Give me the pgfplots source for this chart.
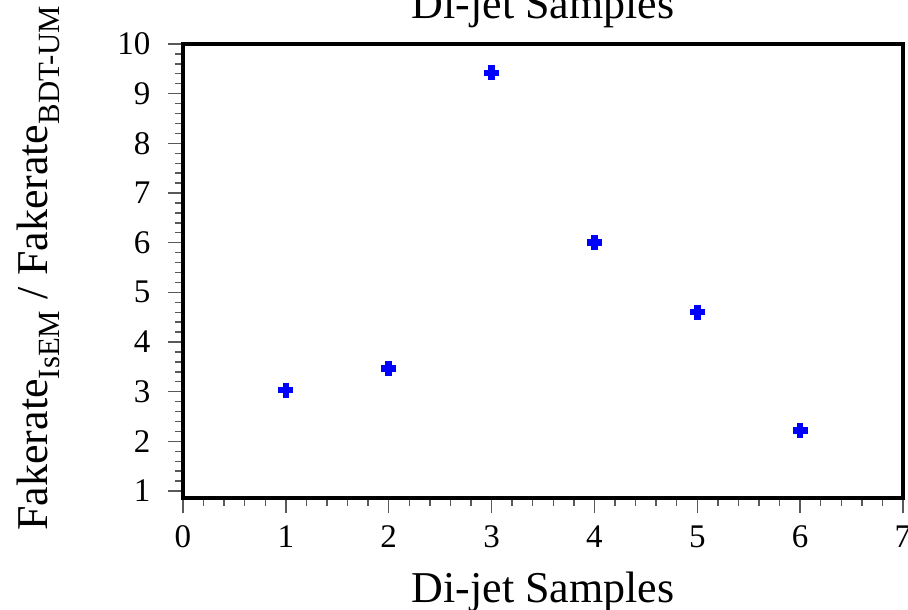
\documentclass[border=0pt]{standalone}
\usepackage{pgfplots}
\pgfplotsset{compat=1.18}
\usepackage{fontspec}
\setmainfont{Liberation Serif}
\begin{document}
\begin{tikzpicture}
\begin{axis}[
  name=ax,
  scale only axis,
  width=720pt, height=454pt,
  xmin=0, xmax=7, ymin=0.86, ymax=10,
  xtick={0,1,...,7}, ytick={1,2,...,10},
  minor x tick num=4, minor y tick num=4,
  xtick pos=bottom, ytick pos=left,
  tick align=outside,
  major tick length=15pt, minor tick length=8pt,
  tick style={line width=1.4pt, color=black!65},
  axis line style={line width=3.6pt, black},
  /pgf/number format/assume math mode=true,
  ticklabel style={font=\fontsize{33}{38}\selectfont},
  yticklabel style={xshift=-14pt},
  xticklabel style={yshift=-9pt},
  title={Di-jet Samples},
  title style={at={(axis description cs:0.5,1)}, anchor=base, yshift=19pt, font=\fontsize{44}{50}\selectfont},
  xlabel={Di-jet Samples},
  xlabel style={at={(axis description cs:0.5,0)}, anchor=base, yshift=-104pt, font=\fontsize{44}{50}\selectfont},
  ylabel={Fakerate\textsubscript{IsEM} / Fakerate\textsubscript{BDT-UM}},
  ylabel style={at={(axis description cs:0,0.5)}, anchor=base, yshift=135pt, xshift=3pt, font=\fontsize{44}{50}\selectfont},
]
\addplot[only marks, mark=+, mark size=7.5pt, color=blue, line width=6.5pt]
  coordinates {(1,3.03) (2,3.47) (3,9.42) (4,6.00) (5,4.60) (6,2.22)};
\addplot[draw=none, mark=none,
  error bars/.cd, x dir=both, x explicit, y dir=both, y explicit,
  error mark=none, error bar style={draw=white, line width=1pt}]
  coordinates {(1,3.03) +- (0,0.07) (2,3.47) +- (0,0.08) (3,9.42) +- (0.05,0.1) (4,6.00) +- (0,0.08) (5,4.60) +- (0,0.06) (6,2.22) +- (0,0.05)};
\end{axis}
\pgfresetboundingbox
\path[use as bounding box] ([shift={(-183pt,-112pt)}]ax.south west) rectangle ([shift={(725pt,498pt)}]ax.south west);
\end{tikzpicture}
\end{document}
